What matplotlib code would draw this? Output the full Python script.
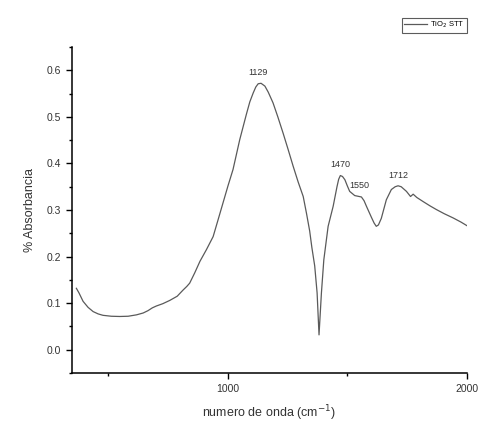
import matplotlib
matplotlib.use("Agg")
import matplotlib.pyplot as plt
from matplotlib.ticker import MultipleLocator, FixedLocator

plt.rcParams['font.family'] = ['Liberation Sans', 'DejaVu Sans']

wavenumber = [369, 380, 397, 418, 439, 460, 480, 515, 550, 585, 620, 648, 668, 686, 703, 730,
              759, 790, 814, 830, 842, 863, 885, 912, 940, 960, 981, 1002, 1023, 1051, 1079,
              1093, 1107, 1118, 1128, 1140, 1156, 1170, 1190, 1210, 1232, 1253, 1274, 1295,
              1316, 1330, 1343, 1352, 1364, 1374, 1382, 1392, 1402, 1420, 1441, 1457, 1464,
              1471, 1480, 1490, 1500, 1510, 1531, 1559, 1570, 1580, 1601, 1612, 1621, 1630,
              1642, 1663, 1684, 1700, 1712, 1725, 1747, 1764, 1775, 1790, 1817, 1845, 1872,
              1905, 1942, 1975, 2004]
absorbance = [0.132, 0.122, 0.104, 0.091, 0.082, 0.077, 0.074, 0.072, 0.0715, 0.072, 0.075,
              0.079, 0.084, 0.090, 0.094, 0.099, 0.106, 0.115, 0.128, 0.136, 0.143, 0.165,
              0.190, 0.215, 0.243, 0.278, 0.315, 0.352, 0.387, 0.451, 0.506, 0.532, 0.551,
              0.564, 0.571, 0.572, 0.566, 0.553, 0.530, 0.500, 0.465, 0.430, 0.394, 0.360,
              0.329, 0.292, 0.255, 0.220, 0.180, 0.122, 0.032, 0.122, 0.193, 0.265, 0.308,
              0.350, 0.366, 0.374, 0.372, 0.365, 0.352, 0.340, 0.331, 0.328, 0.320, 0.308,
              0.284, 0.272, 0.265, 0.268, 0.282, 0.322, 0.344, 0.350, 0.352, 0.350, 0.340,
              0.329, 0.334, 0.327, 0.318, 0.309, 0.301, 0.292, 0.283, 0.274, 0.265]

peak_labels = ["1129", "1470", "1550", "1712"]
peak_x = [1129, 1470, 1550, 1712]
peak_y = [0.585, 0.388, 0.343, 0.365]

series_name = r"TiO$_2$ STT"

fig = plt.figure(figsize=(4.82, 4.23), dpi=100)
ax = fig.add_axes([0.149, 0.118, 0.820, 0.771])

ax.plot(wavenumber, absorbance, color='#5a5a5a', lw=0.9, label=series_name)
for lab, px, py in zip(peak_labels, peak_x, peak_y):
    ax.text(px, py, lab, ha='center', va='bottom', fontsize=6.5, color='#333333')

ax.set_xlim(350, 2000)
ax.set_ylim(-0.05, 0.65)
ax.xaxis.set_major_locator(FixedLocator([1000, 2000]))
ax.xaxis.set_minor_locator(FixedLocator([500, 1500]))
ax.yaxis.set_major_locator(MultipleLocator(0.1))
ax.yaxis.set_minor_locator(MultipleLocator(0.05))
ax.yaxis.set_major_formatter(matplotlib.ticker.FormatStrFormatter('%.1f'))

for s in ['top', 'right']:
    ax.spines[s].set_visible(False)
for s in ['left', 'bottom']:
    ax.spines[s].set_linewidth(1.1)

ax.tick_params(which='major', direction='out', length=4, width=1, labelsize=7.5,
               labelcolor='#333333')
ax.tick_params(which='minor', direction='out', length=2.5, width=1)

ax.set_xlabel("numero de onda (cm$^{-1}$)", fontsize=9, color='#333333', labelpad=7)
ax.set_ylabel("% Absorbancia", fontsize=9, color='#333333', labelpad=8)

leg = ax.legend(loc='upper right', bbox_to_anchor=(1.0, 1.09), fontsize=5.5,
                frameon=True, fancybox=False, edgecolor='#333333', handlelength=3,
                borderpad=0.3, handletextpad=0.4, borderaxespad=0)
leg.get_frame().set_linewidth(0.8)

fig.savefig("out.png", dpi=100)
